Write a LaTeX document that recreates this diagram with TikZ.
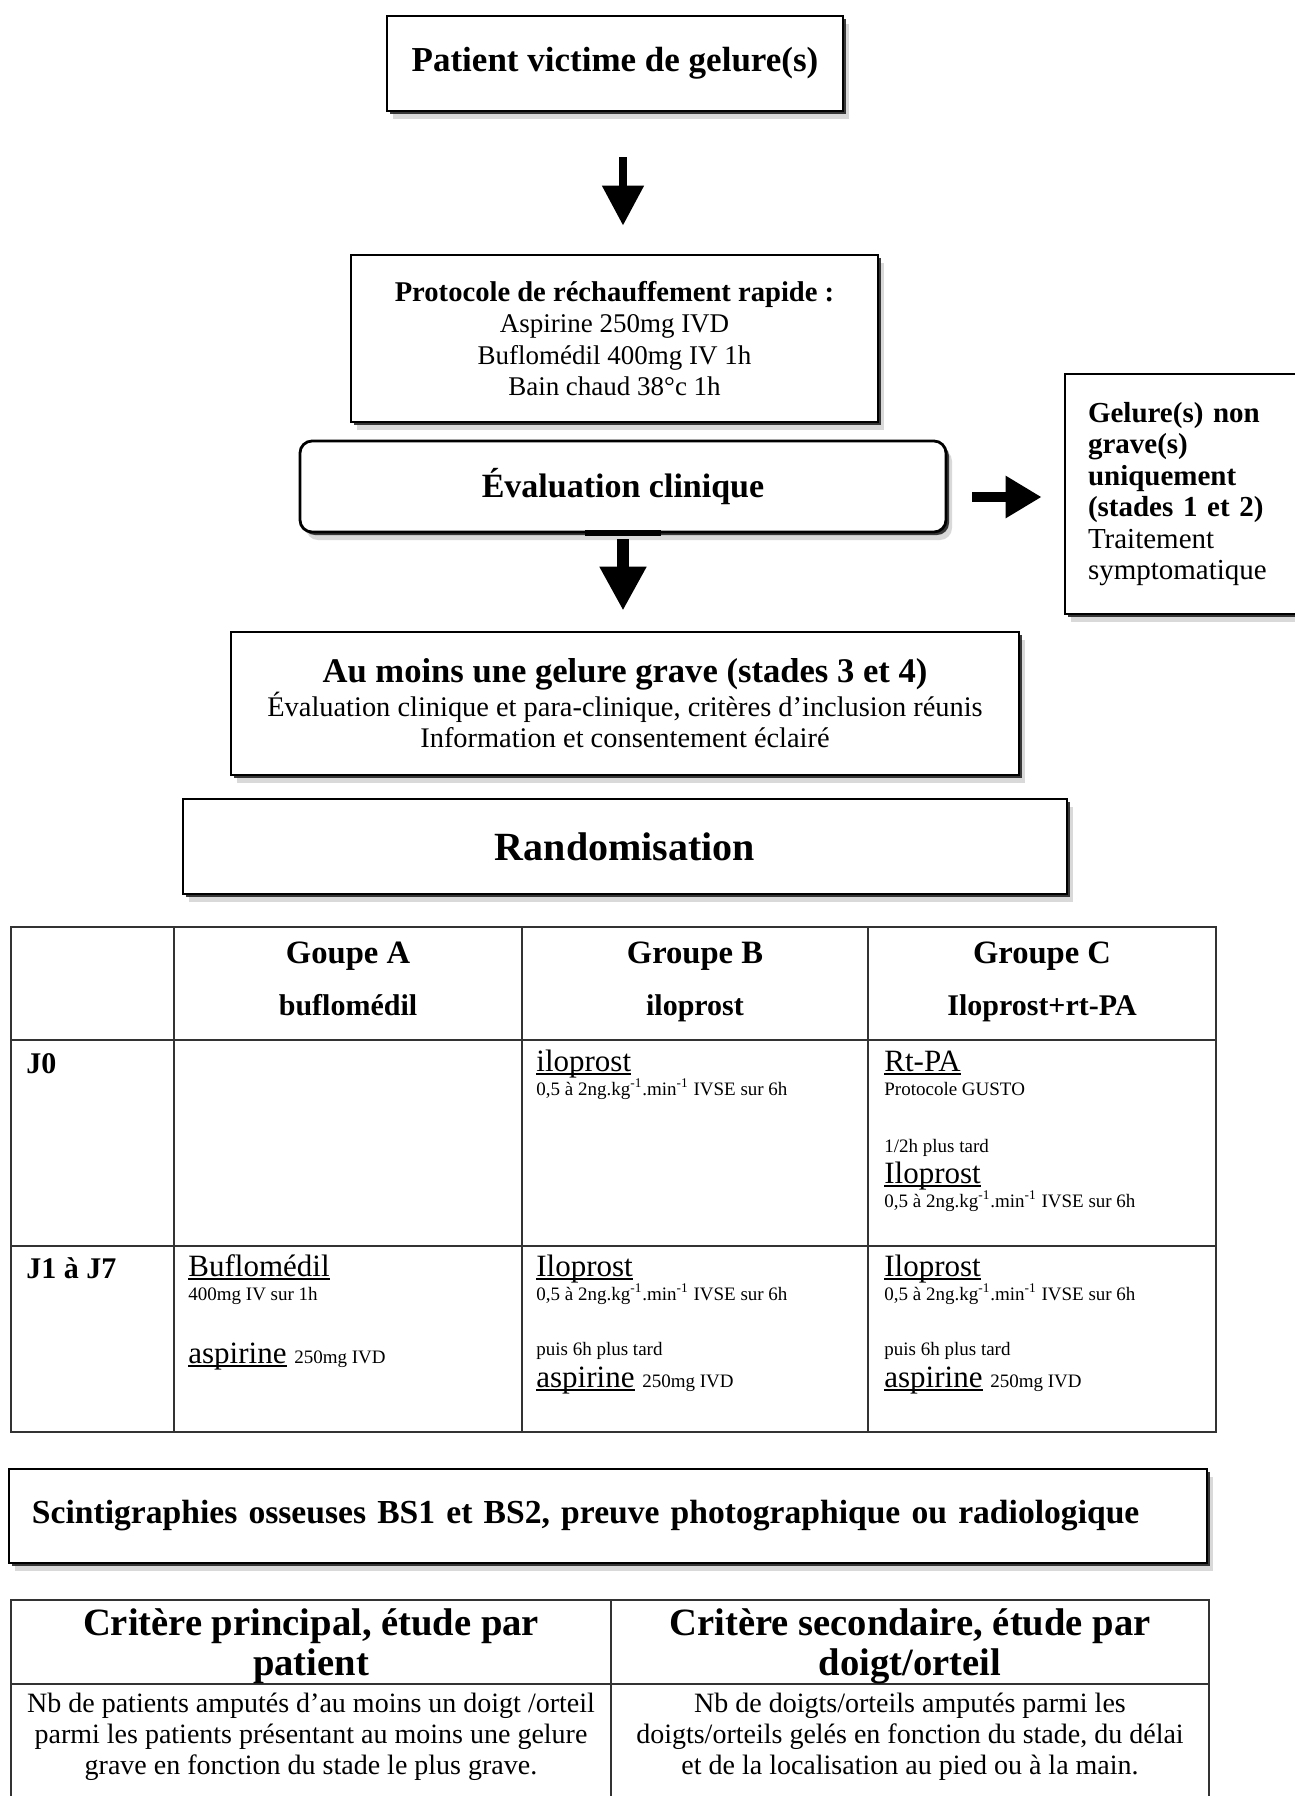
\documentclass[tikz,border=0pt]{standalone}
\usepackage{fontspec}
\setmainfont{Liberation Serif}
\usetikzlibrary{arrows.meta}
\usetikzlibrary{shadows}

\newcommand{\fs}[2]{\fontsize{#1}{#2}\selectfont}
% underline drawn close to the baseline, as in the table
\newcommand{\drugul}[1]{\setbox0\hbox{#1}\rlap{\rule[-1.8pt]{\wd0}{0.6pt}}\box0\relax}

\tikzset{
  flowbox/.style={draw, line width=1.4pt, fill=white, align=center, inner sep=0pt,
    drop shadow={shadow xshift=3pt, shadow yshift=-4pt, opacity=.15, fill=black},
    drop shadow={shadow xshift=1.5pt, shadow yshift=-1.5pt, opacity=.9, fill=black!85}},
  gridline/.style={line width=1pt, draw=black!80},
  headcell/.style={anchor=base, inner sep=0pt, font=\bfseries\fs{16.3}{20}},
  daycell/.style={anchor=base west, inner sep=0pt, font=\bfseries\fs{15}{18}},
  drugcell/.style={anchor=base west, inner sep=0pt, font=\fs{15.5}{18}},
  dosecell/.style={anchor=base west, inner sep=0pt, font=\fs{9.5}{11}},
  critcell/.style={align=center, inner sep=0pt}
}

\begin{document}
\begin{tikzpicture}[x=0.5pt,y=-0.5pt]
  \useasboundingbox (0,0) rectangle (1295,1796);

  % flowchart boxes
  \node [flowbox, minimum width=228pt, minimum height=47.5pt, font=\bfseries\fs{17.5}{20}] (patient) at (615,63.5) {Patient victime de gelure(s)};
  \node [flowbox, minimum width=263.5pt, minimum height=83.5pt, font=\fs{13.5}{15.8}] (protocole) at (614.5,338.5)
    {{\bfseries\fs{14.3}{15.8}Protocole de réchauffement rapide :}\\Aspirine 250mg IVD\\Buflomédil 400mg IV 1h\\Bain chaud 38°c 1h};
  \node [flowbox, rounded corners=6pt, minimum width=323pt, minimum height=45.5pt, font=\bfseries\fs{17}{20}] (eval) at (623,486.5) {Évaluation clinique};
  \node [flowbox, minimum width=127.5pt, minimum height=120pt, text width=104.5pt, align=left, inner xsep=11.5pt, font=\fs{14.5}{15.75}] (nongrave) at (1192.5,494)
    {\textbf{Gelure(s) non}\\\textbf{grave(s)}\\\textbf{uniquement}\\\textbf{(stades 1 et 2)}\\Traitement\\symptomatique};
  \node [flowbox, minimum width=394pt, minimum height=71.5pt, font=\fs{14.2}{15.5}] (grave) at (625,703.5)
    {{\bfseries\fs{17.3}{17.5}Au moins une gelure grave (stades 3 et 4)}\\Évaluation clinique et para-clinique, critères d’inclusion réunis\\Information et consentement éclairé};
  \node [flowbox, minimum width=442pt, minimum height=47.5pt, font=\bfseries\fs{20}{22}] (random) at (625,846.5) {Randomisation};

  % block arrows
  \coordinate (rarrowy) at (0,497);
  \draw [line width=4pt, -{Triangle[width=20pt,length=20pt]}, shorten <=22.5pt, shorten >=14pt] (patient.south -| eval) -- (protocole.north -| eval);
  \draw [line width=3pt] ([xshift=-19pt]eval.south) -- ([xshift=19pt]eval.south);
  \draw [line width=6pt, -{Triangle[width=22pt,length=22pt]}, shorten <=3pt, shorten >=10pt] (eval.south) -- (grave.north -| eval);
  \draw [line width=5pt, -{Triangle[width=20pt,length=18pt]}, shorten <=12.5pt, shorten >=11pt] (eval.east |- rarrowy) -- (nongrave.west |- rarrowy);

  % treatment table
  \draw [gridline] (11,927) rectangle (1216,1432);
  \foreach \x in {174,522,868} \draw [gridline] (\x,927) -- (\x,1432);
  \foreach \y in {1040,1246} \draw [gridline] (11,\y) -- (1216,\y);

  \node [headcell] (headA) at (348,963) {Goupe A};
  \node [headcell] (headB) at (695,963) {Groupe B};
  \node [headcell] (headC) at (1042,963) {Groupe C};
  \node [headcell, font=\bfseries\fs{15}{18}] (subA) at (348,1015) {buflomédil};
  \node [headcell, font=\bfseries\fs{15}{18}] (subB) at (695,1015) {iloprost};
  \node [headcell, font=\bfseries\fs{15}{18}] (subC) at (1042,1015) {Iloprost+rt-PA};

  \node [daycell] (dayzero) at (26,1073) {J0};
  \node [daycell] (dayseven) at (26,1278) {J1 à J7};

  % J0
  \node [drugcell] (bzerodrug) at (536,1071) {\drugul{iloprost}};
  \node [dosecell] (bzerodose) at (536,1095) {0,5 à 2ng.kg\textsuperscript{-1}.min\textsuperscript{-1} IVSE sur 6h};
  \node [drugcell] (czerodrug) at (884,1071) {\drugul{Rt-PA}};
  \node [dosecell] (czerodose) at (884,1095) {Protocole GUSTO};
  \node [dosecell] (czerolater) at (884,1152) {1/2h plus tard};
  \node [drugcell] (czerodrugb) at (884,1183) {\drugul{Iloprost}};
  \node [dosecell] (czerodoseb) at (884,1207) {0,5 à 2ng.kg\textsuperscript{-1}.min\textsuperscript{-1} IVSE sur 6h};

  % J1 a J7
  \node [drugcell] (asevdrug) at (188,1276) {\drugul{Buflomédil}};
  \node [dosecell] (asevdose) at (188,1300) {400mg IV sur 1h};
  \node [drugcell] (asevasp) at (188,1363) {\drugul{aspirine} {\fs{9.5}{11}250mg IVD}};
  \node [drugcell] (bsevdrug) at (536,1276) {\drugul{Iloprost}};
  \node [dosecell] (bsevdose) at (536,1300) {0,5 à 2ng.kg\textsuperscript{-1}.min\textsuperscript{-1} IVSE sur 6h};
  \node [dosecell] (bsevlater) at (536,1355) {puis 6h plus tard};
  \node [drugcell] (bsevasp) at (536,1387) {\drugul{aspirine} {\fs{9.5}{11}250mg IVD}};
  \node [drugcell] (csevdrug) at (884,1276) {\drugul{Iloprost}};
  \node [dosecell] (csevdose) at (884,1300) {0,5 à 2ng.kg\textsuperscript{-1}.min\textsuperscript{-1} IVSE sur 6h};
  \node [dosecell] (csevlater) at (884,1355) {puis 6h plus tard};
  \node [drugcell] (csevasp) at (884,1387) {\drugul{aspirine} {\fs{9.5}{11}250mg IVD}};

  % scintigraphies
  \node [flowbox, minimum width=599pt, minimum height=47pt, text width=576pt, align=left, inner xsep=11.5pt, font=\bfseries\fs{16.8}{19}] (scinti) at (608,1516)
    {Scintigraphies osseuses BS1 et BS2, preuve photographique ou radiologique};

  % criteria table
  \draw [gridline, line width=1.3pt] (11,1800) -- (11,1600) -- (1209,1600) -- (1209,1800);
  \draw [gridline, line width=1.3pt] (611,1600) -- (611,1800);
  \draw [gridline, line width=1.3pt] (11,1684) -- (1209,1684);
  \node [critcell, font=\bfseries\fs{19.3}{20}] (critone) at (311,1646) {Critère principal, étude par\\patient};
  \node [critcell, font=\bfseries\fs{19.3}{20}] (crittwo) at (910,1646) {Critère secondaire, étude par\\doigt/orteil};
  \node [critcell, font=\fs{14}{15.5}] (critonetext) at (311,1737) {Nb de patients amputés d’au moins un doigt /orteil\\parmi les patients présentant au moins une gelure\\grave en fonction du stade le plus grave.};
  \node [critcell, font=\fs{14}{15.5}] (crittwotext) at (910,1737) {Nb de doigts/orteils amputés parmi les\\doigts/orteils gelés en fonction du stade, du délai\\et de la localisation au pied ou à la main.};
\end{tikzpicture}
\end{document}
